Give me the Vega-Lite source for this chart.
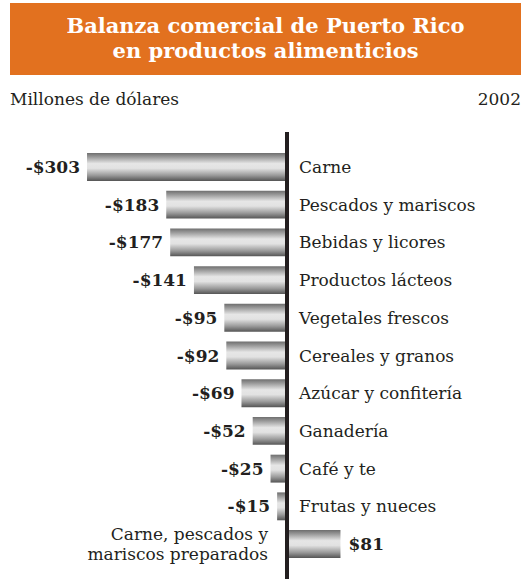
{
  "$schema": "https://vega.github.io/schema/vega-lite/v6.json",
  "padding": {"top": 3, "left": 10, "right": 0, "bottom": 0},
  "spacing": 0,
  "config": {
    "font": "DejaVu Serif",
    "view": {"stroke": null},
    "concat": {"spacing": 0}
  },
  "vconcat": [
    {
      "width": 511,
      "height": 72,
      "view": {"fill": "#E2711F", "stroke": null},
      "data": {"values": [{"title": "Balanza comercial de Puerto Rico\nen productos alimenticios"}]},
      "mark": {"type": "text", "fontWeight": "bold", "fontSize": 21, "color": "#ffffff", "lineBreak": "\n", "lineHeight": 25, "baseline": "middle", "align": "center", "dy": -12},
      "encoding": {"text": {"field": "title"}}
    },
    {
      "width": 511,
      "height": 55,
      "data": {"values": [{"label": "Millones de dólares", "pos": 0}, {"label": "2002", "pos": 1}]},
      "layer": [
        {
          "transform": [{"filter": "datum.pos == 0"}],
          "mark": {"type": "text", "fontSize": 17, "color": "#231f20", "align": "left", "baseline": "alphabetic", "dy": 2},
          "encoding": {
            "x": {"field": "pos", "type": "quantitative", "scale": {"domain": [0, 1]}, "axis": null},
            "text": {"field": "label"}
          }
        },
        {
          "transform": [{"filter": "datum.pos == 1"}],
          "mark": {"type": "text", "fontSize": 17, "color": "#231f20", "align": "right", "baseline": "alphabetic", "dy": 2},
          "encoding": {
            "x": {"field": "pos", "type": "quantitative", "scale": {"domain": [0, 1]}, "axis": null},
            "text": {"field": "label"}
          }
        }
      ]
    },
    {
      "width": 511,
      "height": 449,
      "data": {"values": [
        {"cat": "Carne", "value": -303, "label": "-$303"},
        {"cat": "Pescados y mariscos", "value": -183, "label": "-$183"},
        {"cat": "Bebidas y licores", "value": -177, "label": "-$177"},
        {"cat": "Productos lácteos", "value": -141, "label": "-$141"},
        {"cat": "Vegetales frescos", "value": -95, "label": "-$95"},
        {"cat": "Cereales y granos", "value": -92, "label": "-$92"},
        {"cat": "Azúcar y confitería", "value": -69, "label": "-$69"},
        {"cat": "Ganadería", "value": -52, "label": "-$52"},
        {"cat": "Café y te", "value": -25, "label": "-$25"},
        {"cat": "Frutas y nueces", "value": -15, "label": "-$15"},
        {"cat": "Carne, pescados y\nmariscos preparados", "value": 81, "label": "$81"}
      ]},
      "encoding": {
        "y": {"field": "cat", "type": "nominal", "sort": null, "axis": null,
              "scale": {"range": [21, 426], "paddingInner": 0.26, "paddingOuter": 0}}
      },
      "layer": [
        {
          "mark": {"type": "bar", "color": {"gradient": "linear", "x1": 0, "y1": 0, "x2": 0, "y2": 1,
            "stops": [
              {"offset": 0, "color": "#6e6e6e"},
              {"offset": 0.15, "color": "#9c9c9c"},
              {"offset": 0.38, "color": "#e6e6e6"},
              {"offset": 0.55, "color": "#e2e2e2"},
              {"offset": 0.8, "color": "#9a9a9a"},
              {"offset": 1, "color": "#555555"}
            ]}},
          "encoding": {
            "x": {"field": "value", "type": "quantitative", "axis": null,
                  "scale": {"domain": [-419.7, 354.5], "zero": false, "nice": false}},
            "x2": {"datum": 0}
          }
        },
        {
          "transform": [{"filter": "datum.value < 0"}],
          "mark": {"type": "text", "fontWeight": "bold", "fontSize": 17, "color": "#231f20", "align": "right", "baseline": "middle", "dx": -7, "dy": 1},
          "encoding": {
            "x": {"field": "value", "type": "quantitative"},
            "text": {"field": "label"}
          }
        },
        {
          "transform": [{"filter": "datum.value > 0"}],
          "mark": {"type": "text", "fontWeight": "bold", "fontSize": 17, "color": "#231f20", "align": "left", "baseline": "middle", "dx": 8, "dy": 1},
          "encoding": {
            "x": {"field": "value", "type": "quantitative"},
            "text": {"field": "label"}
          }
        },
        {
          "transform": [{"filter": "datum.value < 0"}],
          "mark": {"type": "text", "fontSize": 17, "color": "#231f20", "align": "left", "baseline": "middle", "dx": 12, "dy": 1},
          "encoding": {
            "x": {"datum": 0},
            "text": {"field": "cat"}
          }
        },
        {
          "transform": [{"filter": "datum.value > 0"}],
          "mark": {"type": "text", "fontSize": 17, "color": "#231f20", "align": "right", "baseline": "middle", "dx": -19, "dy": -9, "lineBreak": "\n", "lineHeight": 20},
          "encoding": {
            "x": {"datum": 0},
            "text": {"field": "cat"}
          }
        },
        {
          "mark": {"type": "rule", "color": "#231f20", "strokeWidth": 3},
          "encoding": {
            "x": {"datum": 0},
            "y": null
          }
        }
      ]
    }
  ]
}
